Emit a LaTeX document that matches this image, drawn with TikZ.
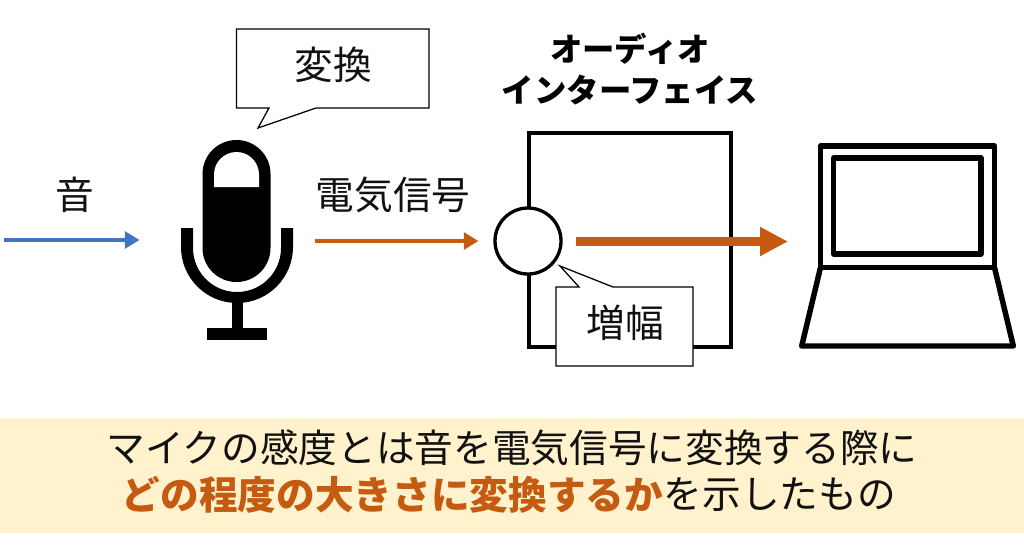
\documentclass[tikz,border=0pt]{standalone}
\usepackage{fontspec}
\setmainfont{Noto Sans CJK JP}
\usetikzlibrary{arrows.meta}
\definecolor{band}{HTML}{FFF2CC}
\definecolor{rust}{HTML}{C55A11}
\definecolor{blueline}{HTML}{4472C4}
\definecolor{ink}{HTML}{111111}
\tikzset{
  px/.style={x=0.75pt,y=-0.75pt},
  lbl/.style={inner sep=0pt,text=ink,font=\fontsize{29}{34}\selectfont},
  head/.style={inner sep=0pt,align=center,text=black,font=\fontsize{24.3}{30.75}\selectfont\bfseries},
  call/.style={draw=black,line width=0.95pt,fill=white,line join=miter},
  box line/.style={draw=black,line width=2.9pt,line join=miter},
  lap/.style={draw=black,line width=4.1pt,line join=round},
  thinarrow/.style={line width=3.6pt,-{Triangle[length=11pt,width=12.5pt]}},
  bigarrow/.style={line width=6.8pt,draw=rust,-{Triangle[length=21pt,width=20.5pt]}},
  banner/.style={inner sep=0pt,text=ink,font=\fontsize{29}{34}\selectfont}
}
\begin{document}
\begin{tikzpicture}[px]
\useasboundingbox (0,0) rectangle (1024,544);
\fill[white] (0,0) rectangle (1024,544);
% banner
\fill[band] (0,418) rectangle (1024,533);
\node[banner] (line1) at (512,448) {マイクの感度とは音を電気信号に変換する際に};
\node[banner,anchor=east] (line2b) at (896,495) {を示したもの};
\node[banner,anchor=east,text=rust,font=\fontsize{29}{34}\selectfont\bfseries] (line2a) at (line2b.west) {どの程度の大きさに変換するか};
% sound
\node[lbl] (oto) at (75,195) {音};
\coordinate (a0) at (4,240);
\coordinate (a1) at (139.5,240);
\draw[thinarrow,draw=blueline] (a0) -- (a1);
% mic capsule
\fill[black] (202.5,174) arc[start angle=180,end angle=360,radius=34] -- (270.5,248) arc[start angle=0,end angle=180,radius=34] -- cycle;
\fill[white] (214,174.5) arc[start angle=180,end angle=360,radius=22.5] -- (259,187) -- (214,187) -- cycle;
% mic yoke
\fill[black] (181,228) -- (193,228) -- (193,248) arc[start angle=180,end angle=0,radius=44] -- (281,228) -- (293,228) -- (293,247) arc[start angle=0,end angle=180,radius=56] -- cycle;
\fill[black] (231.5,300) rectangle (243,330);
\fill[black] (207,328) rectangle (267,340);
% convert callout
\draw[call] (236.5,29) -- (429,29) -- (429,108) -- (316,108) -- (258,128) -- (269,108) -- (236.5,108) -- cycle;
\node[lbl] (henkan) at (333,65) {変換};
% signal
\node[lbl] (sig) at (393,195) {電気信号};
\coordinate (s0) at (315,241);
\coordinate (s1) at (478.5,241);
\draw[thinarrow,draw=rust] (s0) -- (s1);
% interface
\node[head] (ai) at (630,69.5) {オーディオ\\インターフェイス};
\node[box line,fill=white,minimum width=151.5pt,minimum height=160pt,inner sep=0pt,outer sep=0pt] (ifbox) at (630.25,240) {};
\node[circle,draw=black,line width=2.5pt,fill=white,minimum size=49.5pt,inner sep=0pt] (amp) at (528,241) {};
% big arrow
\coordinate (b0) at (576,241.5);
\coordinate (b1) at (788,241.5);
\draw[bigarrow] (b0) -- (b1);
% amp callout
\draw[call] (556,287) -- (579,287) -- (560,266) -- (613,287) -- (693,287) -- (693,366) -- (556,366) -- cycle;
\node[lbl] (zoufuku) at (625,323) {増幅};
% laptop
\draw[lap] (820.5,267.5) -- (820.5,146) -- (994.5,146) -- (994.5,267.5) -- cycle;
\draw[lap] (833.7,158) rectangle (980.8,254);
\draw[lap] (820.5,267.5) -- (801.7,346) -- (1013.3,346) -- (994.5,267.5);
\end{tikzpicture}
\end{document}
